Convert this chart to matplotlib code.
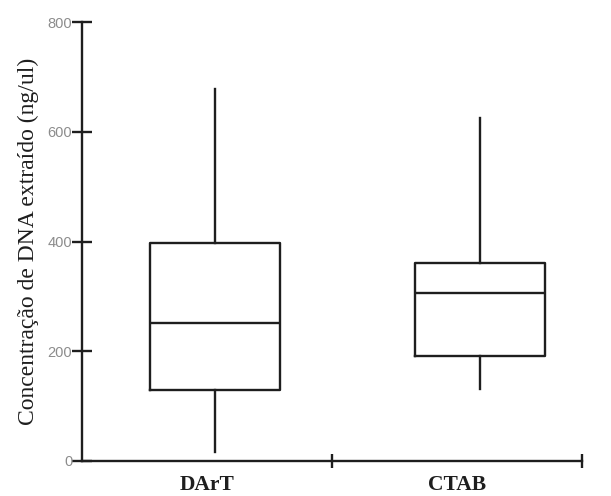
import matplotlib
matplotlib.use("Agg")
from matplotlib import pyplot as plt

# values (ng/ul)
categories = ["DArT", "CTAB"]
whisker_low = [16, 131]
q1 = [129, 191]
medians = [251, 307]
q3 = [398, 360]
whisker_high = [678, 625]

yticks = [0, 200, 400, 600, 800]

stats = []
for i, name in enumerate(categories):
    stats.append({"label": name, "whislo": whisker_low[i], "q1": q1[i],
                  "med": medians[i], "q3": q3[i], "whishi": whisker_high[i],
                  "fliers": []})

ink = "#1e1e1e"
fig = plt.figure(figsize=(6.11, 4.96), dpi=100)
ax = fig.add_axes([82 / 611, 35 / 496, 500 / 611, 439 / 496])

line = dict(color=ink, linewidth=1.7)
ax.bxp(stats, positions=[0.53, 1.59], widths=0.52, showcaps=False,
       boxprops=line, medianprops=line, whiskerprops=line)

ax.set_xlim(0, 2)
ax.set_ylim(0, 800)
ax.spines["top"].set_visible(False)
ax.spines["right"].set_visible(False)
for s in ("left", "bottom"):
    ax.spines[s].set_color(ink)
    ax.spines[s].set_linewidth(1.7)

ax.set_yticks(yticks)
ax.set_yticklabels([str(v) for v in yticks], fontsize=10.5, color="#8c8c8c",
                   family="Liberation Sans")
ax.tick_params(axis="y", direction="inout", length=14, width=1.7, color=ink, pad=0)

ax.set_xticks([1, 2])
ax.set_xticklabels([])
ax.set_xticks([0.5, 1.5], minor=True)
ax.set_xticklabels(categories, minor=True, fontsize=15.5, fontweight="bold",
                   family="Liberation Serif", color=ink)
ax.tick_params(axis="x", which="major", direction="inout", length=10, width=1.7, color=ink)
ax.tick_params(axis="x", which="minor", length=0, pad=10)

ax.set_ylabel("Concentração de DNA extraído (ng/ul)", fontsize=17,
              family="Liberation Serif", color=ink, labelpad=6)

fig.savefig("out.png", dpi=100)
plt.close(fig)
